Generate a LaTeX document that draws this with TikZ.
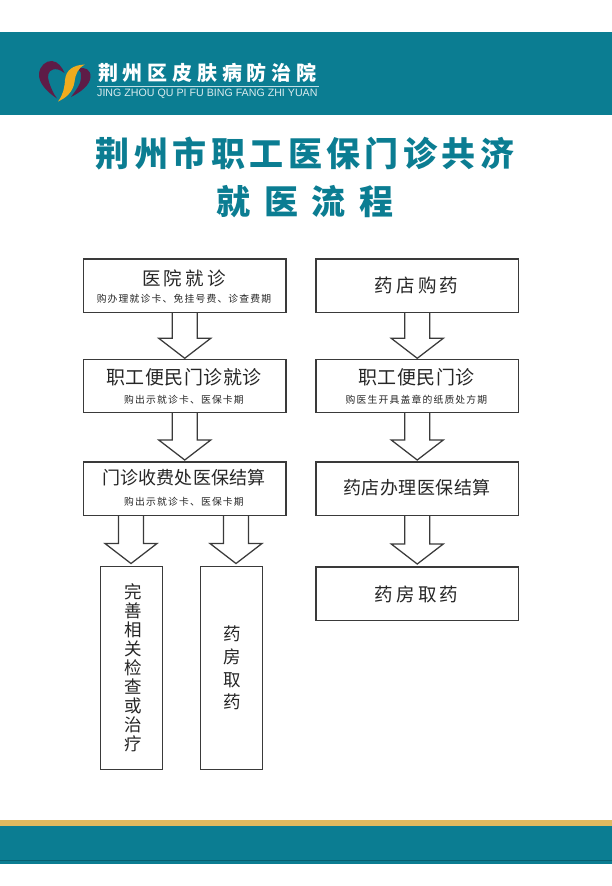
\documentclass[tikz,border=0pt]{standalone}
\usepackage{fontspec}
\setmainfont{Liberation Sans}
\newfontfamily\cjk{Noto Sans CJK SC}
\usetikzlibrary{calc}
\definecolor{teal1}{HTML}{0B7D92}
\definecolor{teal2}{HTML}{075F70}
\definecolor{gold1}{HTML}{E0B95F}
\definecolor{gold2}{HTML}{F0AC1E}
\definecolor{plum}{HTML}{5E1C47}
\definecolor{ink}{HTML}{262626}
\definecolor{edge}{HTML}{3A3A3A}
\newcommand{\hollowarrow}[2]{%
  \draw[hollow] let \p1=(#1), \p2=(#2) in
    (\x1-12.5,\y1) -- (\x1-12.5,\y2+20) -- (\x1-26,\y2+20) -- (\x1,\y2) -- (\x1+26,\y2+20) -- (\x1+12.5,\y2+20) -- (\x1+12.5,\y1);}
\tikzset{
  box/.style={draw=edge,line width=1.25pt,fill=white,minimum width=202.5pt,minimum height=53.5pt,inner sep=0pt,outer sep=0pt,anchor=north west,align=center,text=ink},
  tallbox/.style={box,minimum width=62pt,minimum height=202.5pt},
  hollow/.style={draw=edge,line width=1.25pt,line join=miter},
  lab/.style={inner sep=0pt,text=ink,align=center},
  vert/.style={lab,font=\cjk\fontsize{17.5pt}{19pt}\selectfont},
  vertwide/.style={lab,font=\cjk\fontsize{17.5pt}{22.6pt}\selectfont},
}
\newcommand{\bigt}[1]{{\cjk\fontsize{18.5pt}{21pt}\selectfont\addfontfeatures{LetterSpace=18}#1}}
\newcommand{\midt}[1]{{\cjk\fontsize{19pt}{21pt}\selectfont\addfontfeatures{LetterSpace=3}#1}}
\newcommand{\sm}[1]{{\cjk\fontsize{9.8pt}{11pt}\selectfont\addfontfeatures{LetterSpace=12}#1}}
\begin{document}
\begin{tikzpicture}[x=1pt,y=-1pt]
\useasboundingbox (0,0) rectangle (612,886);
\fill[white] (0,0) rectangle (612,886);
\fill[teal1] (0,32) rectangle (612,115);
\fill[gold1] (0,820) rectangle (612,826);
\fill[teal1] (0,826) rectangle (612,864);
\fill[teal2] (0,860) rectangle (612,860.8);
% logo
\fill[plum] (57,98.5) .. controls (47,92) and (38.5,83) .. (39,74) .. controls (39.5,66) and (46,60.5) .. (52,61) .. controls (58,61.5) and (62,67) .. (64.5,73) .. controls (60,69.5) and (56,68.5) .. (53,69.5) .. controls (48,71) and (47,76) .. (49,82) .. controls (51,88) and (53,93) .. (57,98.5) -- cycle;
\fill[plum] (78,69) .. controls (85,66) and (91,70) .. (90.5,77) .. controls (90,85) and (81,92) .. (71,97) .. controls (76,90) and (81,84) .. (81,78) .. controls (81,73) and (81,71) .. (78,69) -- cycle;
\fill[gold2] (58,101.5) .. controls (63,95) and (64.5,88) .. (65,80) .. controls (66,70) and (73,65) .. (85,64.5) .. controls (78,68) and (75.5,74) .. (74.5,82) .. controls (73,92) and (66,98) .. (58,101.5) -- cycle;
\node[anchor=west,inner sep=0pt,text=white] (hname) at (98,73) {\cjk\bfseries\fontsize{20pt}{22pt}\selectfont\addfontfeatures{LetterSpace=24}荆州区皮肤病防治院};
\draw[white!75!teal1,line width=.5pt] (97,86.5) -- (319,86.5);
\node[anchor=west,inner sep=0pt,text=white!85!teal1] (hpin) at (97,93.5) {\fontsize{10.66pt}{12pt}\selectfont JING ZHOU QU PI FU BING FANG ZHI YUAN};
% title
\node[inner sep=0pt,text=teal1] (t1) at (305,154) {\cjk\bfseries\fontsize{34pt}{38pt}\selectfont\addfontfeatures{LetterSpace=13}荆州市职工医保门诊共济};
\node[inner sep=0pt,text=teal1] (t2) at (305,201.5) {\cjk\bfseries\fontsize{34pt}{38pt}\selectfont\addfontfeatures{LetterSpace=40}就医流程};
% left column
\node[box] (a1) at (83.5,259) {};
\node[lab] (a1t) at (184,278) {\bigt{医院就诊}};
\node[lab] (a1s) at (184,298.3) {\sm{购办理就诊卡、免挂号费、诊查费期}};
\node[box] (a2) at (83.5,359.3) {};
\node[lab] (a2t) at (184,377) {\midt{职工便民门诊就诊}};
\node[lab] (a2s) at (184,399.3) {\sm{购出示就诊卡、医保卡期}};
\node[box] (a3) at (83.5,462) {};
\node[lab] (a3t) at (184,478) {{\cjk\fontsize{18pt}{21pt}\selectfont\addfontfeatures{LetterSpace=1}门诊收费处医保结算}};
\node[lab] (a3s) at (184,501.5) {\sm{购出示就诊卡、医保卡期}};
\node[tallbox] (a4) at (100.3,566.8) {};
\node[tallbox] (a5) at (200.8,566.8) {};
\node[vert] (a4t) at (133.3,667.5) {完\\善\\相\\关\\检\\查\\或\\治\\疗};
\node[vertwide] (a5t) at (232.3,668) {药\\房\\取\\药};
% right column
\node[box] (b1) at (316,259) {};
\node[lab] (b1t) at (416.5,285) {\bigt{药店购药}};
\node[box] (b2) at (316,359.3) {};
\node[lab] (b2t) at (416.5,377) {\midt{职工便民门诊}};
\node[lab] (b2s) at (416.5,399.3) {\sm{购医生开具盖章的纸质处方期}};
\node[box] (b3) at (316,462) {};
\node[lab] (b3t) at (417,488) {{\cjk\fontsize{18pt}{21pt}\selectfont\addfontfeatures{LetterSpace=3}药店办理医保结算}};
\node[box] (b4) at (316,567) {};
\node[lab] (b4t) at (416.5,594) {\bigt{药房取药}};
% arrows
\coordinate (a3l) at (131,515.5);
\coordinate (a3r) at (236,515.5);
\coordinate (a4e) at (131,563.5);
\coordinate (a5e) at (236,563.5);
\coordinate (g1) at ($(a2.north)+(0,-1)$);
\coordinate (g2) at ($(a3.north)+(0,-2)$);
\coordinate (g3) at ($(b2.north)+(0,-1)$);
\coordinate (g4) at ($(b3.north)+(0,-2)$);
\coordinate (g5) at ($(b4.north)+(0,-3)$);
\hollowarrow{a1.south}{g1}
\hollowarrow{a2.south}{g2}
\hollowarrow{b1.south}{g3}
\hollowarrow{b2.south}{g4}
\hollowarrow{b3.south}{g5}
\hollowarrow{a3l}{a4e}
\hollowarrow{a3r}{a5e}
\end{tikzpicture}
\end{document}
